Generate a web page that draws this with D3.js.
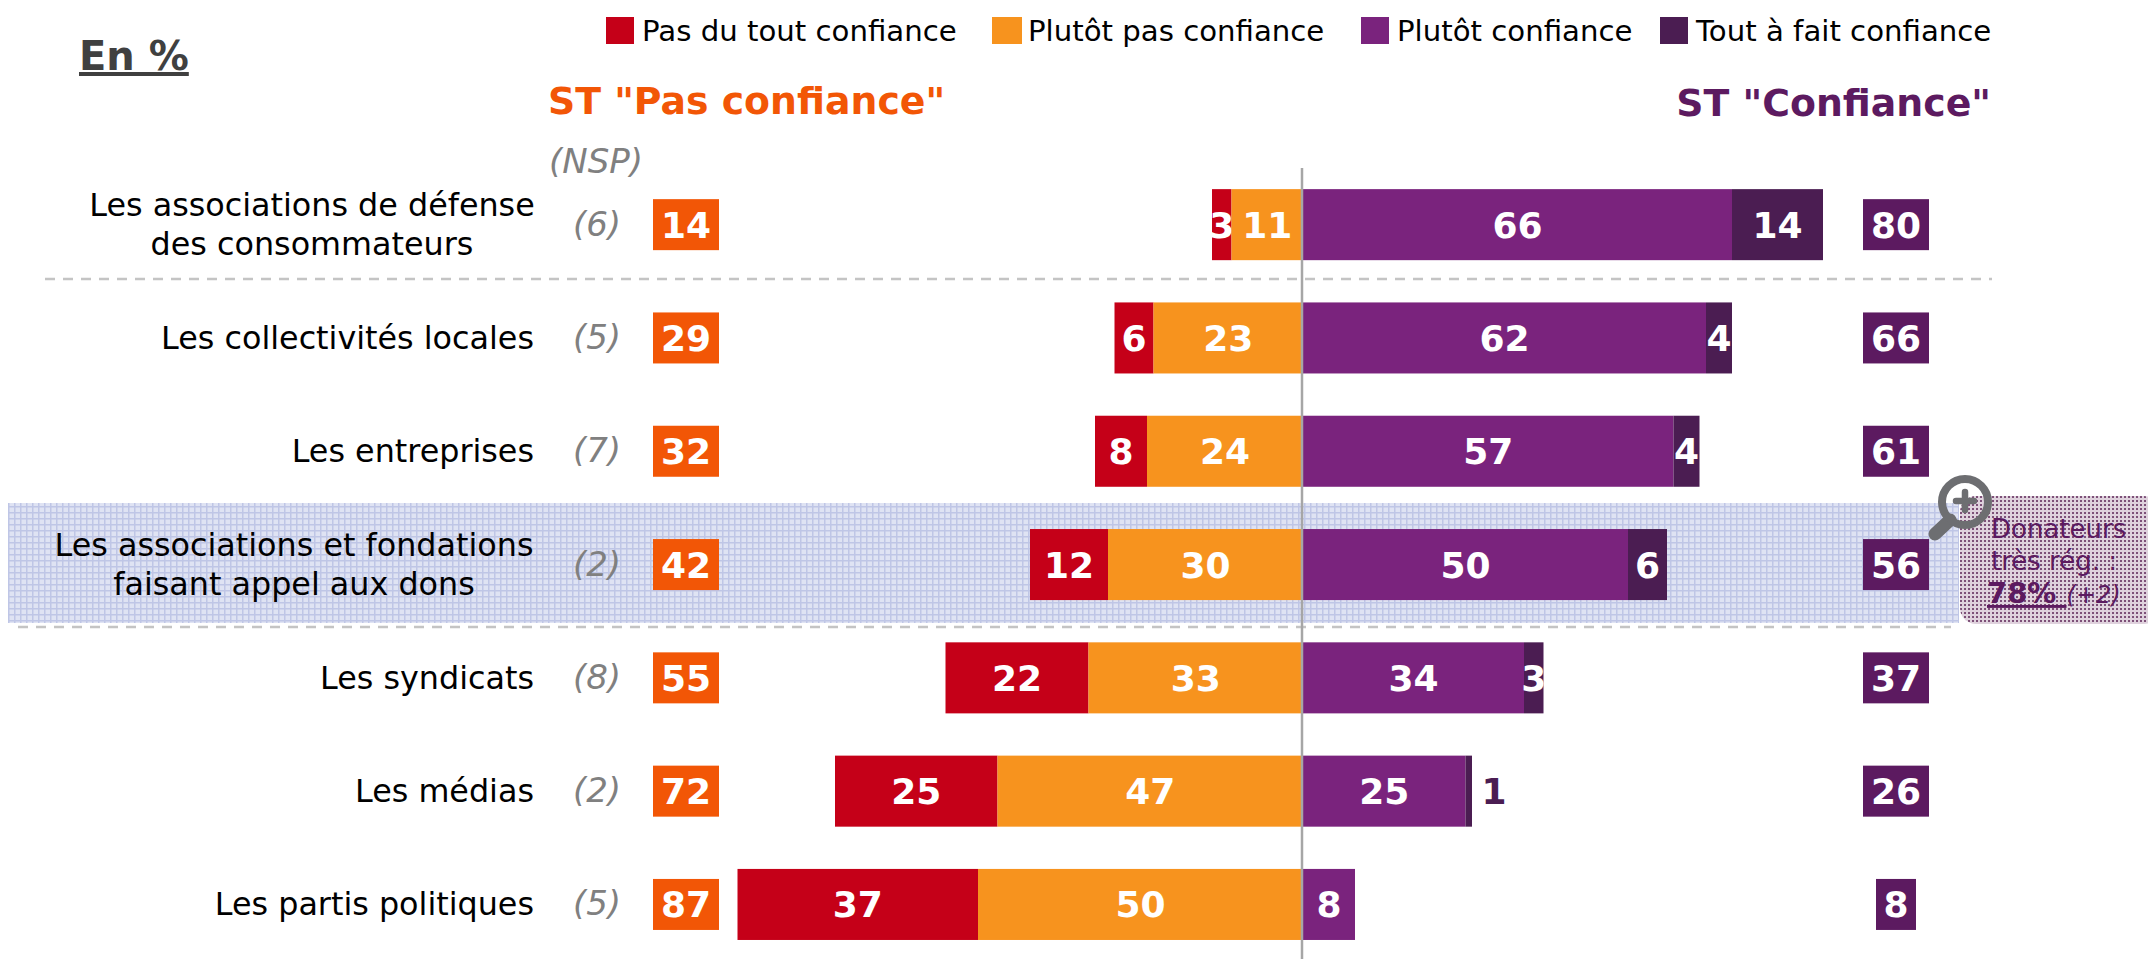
<!DOCTYPE html>
<html><head><meta charset="utf-8">
<script src="https://cdn.jsdelivr.net/npm/d3@7/dist/d3.min.js"></script>
<style>html,body{margin:0;padding:0;background:#fff}svg{display:block}text{font-family:"DejaVu Sans",Verdana,sans-serif}</style>
</head><body><svg id="c" width="2148" height="959"></svg>
<script>
const categories=[["Les associations de défense","des consommateurs"],["Les collectivités locales"],["Les entreprises"],["Les associations et fondations","faisant appel aux dons"],["Les syndicats"],["Les médias"],["Les partis politiques"]];
const nsp=[6,5,7,2,8,2,5];
const pasDuTout=[3,6,8,12,22,25,37];
const plutotPas=[11,23,24,30,33,47,50];
const plutot=[66,62,57,50,34,25,8];
const toutAFait=[14,4,4,6,3,1,0];
const stPas=[14,29,32,42,55,72,87];
const stConf=[80,66,61,56,37,26,8];
const legendLabels=["Pas du tout confiance","Plutôt pas confiance","Plutôt confiance","Tout à fait confiance"];
const colors=["#C50018","#F7931E","#7A237D","#4B1D52"];
const W=2148,H=959;
const svg=d3.select("#c");
const defs=svg.append("defs");
const pb=defs.append("pattern").attr("id","pb").attr("width",6).attr("height",6).attr("patternUnits","userSpaceOnUse");
pb.append("rect").attr("width",6).attr("height",6).attr("fill","#dfe3f3");
pb.append("rect").attr("x",2).attr("width",1.5).attr("height",6).attr("fill","#bfc6e6");
pb.append("rect").attr("y",2).attr("width",6).attr("height",1.5).attr("fill","#bfc6e6");
const pp=defs.append("pattern").attr("id","pp").attr("width",4).attr("height",4).attr("patternUnits","userSpaceOnUse");
pp.append("rect").attr("width",4).attr("height",4).attr("fill","#dfd2dd");
pp.append("rect").attr("width",2).attr("height",2).attr("fill","#7d5078");

const x=d3.scaleLinear().domain([-87,80]).range([1303-87*6.5,1303+80*6.5]);
const ids=categories.map((_,i)=>i);
const y=d3.scaleBand().domain(ids).range([168,168+113.3*7]).paddingInner(.373).paddingOuter(.1865);
const cy=i=>y(i)+y.bandwidth()/2;
const ORANGE_BOX=686,PURPLE_BOX=1896,NSP_X=597,LABEL_FS=31.8,VAL_FS=36;

svg.append("rect").attr("x",8).attr("y",503).attr("width",1951).attr("height",120).attr("fill","url(#pb)");
svg.append("rect").attr("x",1960).attr("y",496).attr("width",200).attr("height",128).attr("rx",16).attr("fill","url(#pp)");

[[45,1992,279],[18,1951,627]].forEach(d=>svg.append("line").attr("x1",d[0]).attr("x2",d[1]).attr("y1",d[2]).attr("y2",d[2]).attr("stroke","#c4c4c4").attr("stroke-width",2.5).attr("stroke-dasharray","10 8"));

// titles
svg.append("text").attr("x",79).attr("y",70).attr("font-size",40).attr("font-weight","bold").attr("fill","#404040").attr("text-decoration","underline").text("En %");
svg.append("text").attr("x",548).attr("y",114).attr("font-size",37.8).attr("font-weight","bold").attr("fill","#F25606").text('ST "Pas confiance"');
svg.append("text").attr("x",1991).attr("y",116).attr("text-anchor","end").attr("font-size",37.8).attr("font-weight","bold").attr("fill","#5C1A60").text('ST "Confiance"');
svg.append("text").attr("x",596).attr("y",173).attr("text-anchor","middle").attr("font-size",34).attr("font-style","italic").attr("fill","#808080").text("(NSP)");

// legend
const legX=[606,992,1361,1660];
legendLabels.forEach((t,i)=>{
 svg.append("rect").attr("x",legX[i]).attr("y",17).attr("width",i==1?30:28).attr("height",27).attr("fill",colors[i]);
 svg.append("text").attr("class","leg").attr("x",legX[i]+36).attr("y",41).attr("font-size",29.2).attr("fill","#000").text(t);
});

// rows
ids.forEach(i=>{
 const c=cy(i);
 const lines=categories[i];
 const g=svg.append("text").attr("font-size",LABEL_FS).attr("fill","#000");
 if(lines.length>1){
  const center=i==0?312:294;
  lines.forEach((l,k)=>g.append("tspan").attr("x",center).attr("text-anchor","middle").attr("y",c+(k==0?-9:30)).text(l));
 } else g.append("tspan").attr("x",534).attr("text-anchor","end").attr("y",c+11).text(lines[0]);
 svg.append("text").attr("x",NSP_X).attr("y",c+11).attr("text-anchor","middle").attr("font-size",34).attr("font-style","italic").attr("fill","#808080").text(`(${nsp[i]})`);
 // stacked segments
 const segs=[
  {a:-(pasDuTout[i]+plutotPas[i]),b:-plutotPas[i],v:pasDuTout[i],c:0},
  {a:-plutotPas[i],b:0,v:plutotPas[i],c:1},
  {a:0,b:plutot[i],v:plutot[i],c:2},
  {a:plutot[i],b:plutot[i]+toutAFait[i],v:toutAFait[i],c:3}];
 segs.filter(s=>s.v>0).forEach(s=>{
  svg.append("rect").attr("x",x(s.a)).attr("y",y(i)).attr("width",x(s.b)-x(s.a)).attr("height",y.bandwidth()).attr("fill",colors[s.c]);
  const outside=s.c==3&&s.v<2;
  svg.append("text").attr("class","v").attr("x",outside?x(s.b)+22:(x(s.a)+x(s.b))/2).attr("y",c+13).attr("text-anchor","middle").attr("font-size",VAL_FS).attr("font-weight","bold").attr("fill",outside?colors[3]:"#fff").text(s.v);
 });
 // boxes
 [[stPas[i],ORANGE_BOX,"#F25606"],[stConf[i],PURPLE_BOX,"#5C1A60"]].forEach(b=>{
  const w=String(b[0]).length>1?66:40;
  svg.append("rect").attr("x",b[1]-w/2).attr("y",c-25.5).attr("width",w).attr("height",51).attr("fill",b[2]);
  svg.append("text").attr("class","v").attr("x",b[1]).attr("y",c+13).attr("text-anchor","middle").attr("font-size",VAL_FS).attr("font-weight","bold").attr("fill","#fff").text(b[0]);
 });
});
// zero line
svg.append("line").attr("x1",x(0)-1).attr("x2",x(0)-1).attr("y1",168).attr("y2",H).attr("stroke","#a6a6a6").attr("stroke-width",2.5);

// magnifier
const m=svg.append("g").attr("stroke","#6d6e71").attr("fill","none");
m.append("line").attr("x1",1950).attr("y1",520).attr("x2",1935).attr("y2",534).attr("stroke-width",13).attr("stroke-linecap","round");
m.append("circle").attr("cx",1965).attr("cy",502).attr("r",23).attr("stroke-width",8);
m.append("path").attr("d","M1956 501H1974M1965 492V510").attr("stroke-width",6.5).attr("stroke-linecap","round");

// callout
const ct=svg.append("g").attr("fill","#5C1A60").attr("font-size",26);
ct.append("text").attr("x",1991).attr("y",538).text("Donateurs");
ct.append("text").attr("x",1991).attr("y",570).text("très rég. :");
const t3=ct.append("text").attr("x",1987).attr("y",603);
t3.append("tspan").attr("font-weight","bold").attr("font-size",29).attr("text-decoration","underline").text("78% ");
t3.append("tspan").attr("font-style","italic").attr("font-size",24).text("(+2)");
</script></body></html>
